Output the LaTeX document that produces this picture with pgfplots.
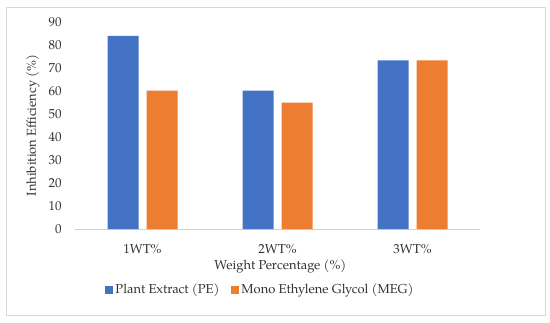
\documentclass[border=0pt]{standalone}
\usepackage{pgfplots}
\pgfplotsset{compat=1.18}
\usepackage{fontspec}
\setmainfont{TeX Gyre Pagella}
\definecolor{peblue}{HTML}{4472C4}
\definecolor{megorange}{HTML}{ED7D31}
\definecolor{txt}{HTML}{303030}
\newcommand{\fs}{\fontsize{13}{15}\selectfont}
\begin{document}
\fs
\begin{tikzpicture}[x=1bp,y=1bp]
\path[fill=white] (0,0) rectangle (550,322);
\draw[draw=black!15, line width=0.8bp] (6,7) rectangle (545,315);
\begin{axis}[
  at={(75bp,93bp)}, anchor=south west,
  scale only axis, width=405bp, height=207bp,
  ymin=0, ymax=90, xmin=-0.5, xmax=2.5,
  ytick={0,10,...,90},
  xtick=data, xticklabels={1WT\%,2WT\%,3WT\%},
  axis x line*=bottom, axis y line*=left,
  y axis line style={draw=none},
  x axis line style={draw=black!18, line width=0.8bp, -},
  tick style={draw=none},
  ticklabel style={text=txt, font=\fs},
  /pgf/number format/assume math mode=true,
  yticklabel style={xshift=-9bp},
  xticklabel style={yshift=-7bp},
  ybar=8bp, bar width=31bp,
  xlabel={Weight Percentage (\%)},
  ylabel={Inhibition Efficiency (\%)},
  label style={text=txt, font=\fs},
  xlabel style={at={(axis description cs:0.507,-0.181)}, anchor=center},
  ylabel style={at={(axis description cs:-0.104,0.5)}, anchor=center},
  legend columns=2,
  legend style={at={(axis description cs:0.458,-0.295)}, anchor=center, draw=none, fill=none,
    font=\fs, text=txt,
    /tikz/every even column/.append style={column sep=10bp}},
  legend image code/.code={\fill[#1] (0bp,-4bp) rectangle (8bp,4bp);},
]
\addplot[fill=peblue, draw=none] coordinates {(0,84) (1,60.2) (2,73.3)};
\addplot[fill=megorange, draw=none] coordinates {(0,60.2) (1,55) (2,73.3)};
\legend{Plant Extract (PE), Mono Ethylene Glycol (MEG)}
\end{axis}
\end{tikzpicture}
\end{document}
